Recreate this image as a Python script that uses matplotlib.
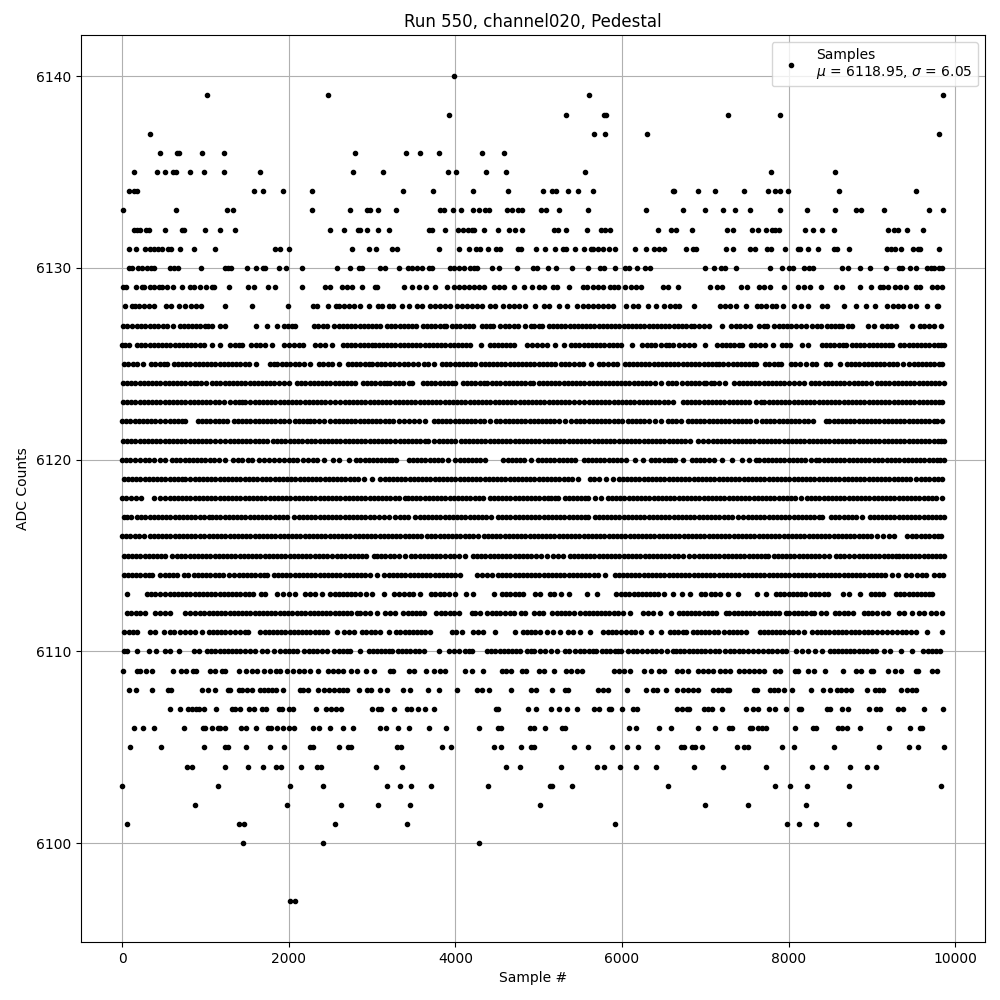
import matplotlib
matplotlib.use("Agg")
import matplotlib.pyplot as plt

s6140 = [3980]
s6139 = [1016, 2468, 5604, 9852]
s6138 = [3920, 5328, 5784, 5804, 7272, 7896]
s6137 = [332, 5664, 5796, 6300, 9804]
s6136 = [452, 656, 688, 956, 1220, 2792, 3404, 3572, 3800, 4316, 4580]
s6135 = [140, 416, 512, 608, 644, 812, 980, 1220, 1652, 2768, 3128, 3908, 4004, 4364, 4604, 5556, 7788, 8556]
s6134 = [88, 140, 180, 1580, 1688, 1928, 2276, 3368, 3728, 4208, 4628, 5052, 5160, 5208, 5352, 5472, 5652, 6608, 6620, 6912, 7116, 7464, 7752, 7836, 7896, 7992, 8604, 9528]
s6133 = [8, 644, 1256, 1328, 2276, 2732, 2936, 2972, 3068, 3284, 3812, 3860, 3968, 4064, 4208, 4280, 4352, 4400, 4616, 4676, 4748, 4800, 5024, 5088, 5244, 5592, 6288, 6732, 6996, 7212, 7356, 7536, 7896, 8220, 8556, 8808, 8868, 9144, 9684, 9852]
s6132 = [148, 180, 220, 292, 328, 512, 716, 740, 992, 1172, 1352, 2492, 2660, 2828, 2852, 2936, 3068, 3200, 3680, 3716, 3872, 4028, 4088, 4148, 4196, 4220, 4340, 4508, 4640, 4712, 4796, 5180, 5228, 5328, 5580, 5748, 5796, 5856, 6432, 6588, 6644, 6840, 7260, 7332, 7560, 7632, 7728, 7800, 7836, 7884, 8196, 8292, 8396, 8544, 9192, 9264, 9312, 9416, 9612]
s6131 = [88, 164, 280, 332, 380, 428, 484, 548, 584, 700, 860, 1112, 1832, 1892, 2000, 2756, 2960, 3044, 3236, 3296, 3800, 4040, 4160, 4244, 4292, 4388, 4484, 4532, 4748, 4788, 4968, 5076, 5196, 5292, 5328, 5436, 5544, 5628, 5652, 5712, 5772, 5844, 5916, 6156, 6288, 6384, 6444, 6504, 6768, 6852, 6888, 7248, 7332, 7536, 7596, 7740, 7788, 7956, 8112, 8136, 8232, 8352, 8544, 8580, 8724, 9180, 9228, 9276, 9348, 9492, 9552, 9576, 9804]
s6130 = [80, 116, 188, 236, 300, 348, 380, 580, 620, 668, 944, 1232, 1268, 1304, 1496, 1604, 1688, 1712, 1880, 1964, 2156, 2576, 2732, 2840, 2876, 3092, 3152, 3320, 3428, 3476, 3536, 3596, 3680, 3716, 3932, 3980, 4040, 4100, 4172, 4220, 4260, 4436, 4520, 4736, 4932, 4980, 5112, 5208, 5400, 5592, 5732, 5784, 5916, 6036, 6084, 6180, 6276, 6336, 6996, 7104, 7188, 7236, 7368, 7776, 7920, 8004, 8052, 8184, 8244, 8292, 8640, 8712, 8856, 8976, 9168, 9324, 9360, 9456, 9528, 9660, 9708, 9744, 9804, 9840]
s6129 = [8, 44, 164, 236, 260, 332, 380, 440, 476, 536, 608, 716, 812, 860, 932, 1004, 1076, 1100, 1288, 1508, 1580, 1748, 1832, 2156, 2432, 2492, 2636, 2696, 2756, 2876, 3032, 3056, 3380, 3476, 3560, 3644, 3752, 3896, 3980, 4040, 4100, 4160, 4220, 4280, 4340, 4460, 4520, 4580, 4700, 4820, 4916, 5004, 5064, 5172, 5220, 5364, 5532, 5580, 5652, 5712, 5772, 5856, 5904, 5952, 6036, 6108, 6168, 6228, 6492, 6552, 6672, 7056, 7140, 7200, 7428, 7500, 7644, 7704, 7776, 7944, 8112, 8184, 8256, 8388, 8568, 8640, 8856, 8988, 9096, 9132, 9192, 9276, 9336, 9408, 9528, 9576, 9720, 9780, 9840]
s6128 = [32, 116, 160, 200, 260, 320, 380, 524, 584, 680, 752, 824, 884, 944, 1240, 1556, 1988, 2288, 2336, 2468, 2564, 2600, 2660, 2720, 2780, 2852, 2960, 3068, 3120, 3200, 3252, 3356, 3440, 3536, 3596, 3692, 3760, 3820, 3880, 3940, 4020, 4080, 4140, 4200, 4260, 4320, 4420, 4480, 4572, 4640, 4700, 4760, 4840, 4952, 5068, 5124, 5244, 5340, 5460, 5532, 5592, 5652, 5712, 5772, 5832, 5892, 6044, 6132, 6192, 6312, 6412, 6504, 6572, 6632, 6684, 6864, 7180, 7232, 7292, 7368, 7488, 7620, 7672, 7732, 7800, 7852, 7932, 8064, 8152, 8232, 8404, 8464, 8664, 8812, 8932, 9036, 9180, 9252, 9312, 9372, 9452, 9532, 9660, 9780, 9796]
s6127 = [8, 60, 120, 180, 230, 280, 330, 380, 430, 490, 540, 608, 692, 740, 790, 840, 890, 940, 990, 1030, 1080, 1180, 1240, 1612, 1736, 1856, 1940, 1990, 2040, 2080, 2300, 2350, 2410, 2460, 2548, 2600, 2650, 2700, 2750, 2800, 2850, 2900, 2950, 3000, 3050, 3092, 3180, 3230, 3280, 3330, 3380, 3430, 3480, 3532, 3612, 3660, 3710, 3760, 3810, 3860, 3892, 3960, 4010, 4060, 4110, 4160, 4212, 4320, 4370, 4420, 4452, 4536, 4592, 4640, 4700, 4752, 4840, 4904, 4950, 5000, 5040, 5120, 5170, 5220, 5270, 5312, 5372, 5420, 5470, 5520, 5570, 5620, 5670, 5720, 5770, 5820, 5870, 5920, 5970, 6020, 6070, 6120, 6170, 6220, 6270, 6320, 6370, 6420, 6470, 6520, 6570, 6620, 6670, 6720, 6770, 6824, 6864, 6920, 6980, 7044, 7196, 7312, 7370, 7420, 7480, 7532, 7644, 7700, 7744, 7824, 7880, 7930, 7980, 8030, 8090, 8150, 8204, 8284, 8340, 8384, 8464, 8510, 8560, 8610, 8644, 8716, 8764, 8956, 9024, 9124, 9180, 9230, 9284, 9484, 9572, 9630, 9690, 9744, 9824]
s6126 = [0, 40, 80, 180, 230, 280, 330, 380, 430, 480, 530, 580, 630, 680, 730, 780, 830, 880, 930, 980, 1080, 1172, 1292, 1350, 1400, 1440, 1552, 1610, 1660, 1720, 1804, 1948, 2000, 2060, 2120, 2172, 2320, 2380, 2440, 2520, 2648, 2700, 2750, 2800, 2850, 2900, 2950, 3000, 3040, 3080, 3132, 3180, 3230, 3280, 3330, 3380, 3430, 3480, 3530, 3580, 3630, 3680, 3730, 3780, 3830, 3880, 3930, 3980, 4030, 4080, 4130, 4172, 4304, 4412, 4460, 4510, 4560, 4610, 4660, 4704, 4860, 4920, 4980, 5040, 5104, 5192, 5304, 5384, 5440, 5490, 5540, 5590, 5640, 5690, 5740, 5790, 5840, 5890, 5940, 5992, 6120, 6240, 6300, 6350, 6392, 6472, 6530, 6570, 6612, 6684, 6740, 6800, 6864, 6996, 7144, 7200, 7250, 7300, 7350, 7400, 7436, 7544, 7600, 7660, 7716, 7816, 7924, 7970, 8012, 8164, 8236, 8396, 8450, 8500, 8550, 8600, 8650, 8684, 8756, 8810, 8860, 8910, 8960, 9010, 9060, 9110, 9160, 9200, 9236, 9332, 9390, 9440, 9490, 9540, 9590, 9640, 9690, 9740, 9790, 9830, 9864]
s6125 = [20, 70, 130, 180, 252, 348, 400, 450, 500, 540, 620, 670, 720, 770, 820, 870, 920, 970, 1020, 1070, 1120, 1170, 1220, 1270, 1320, 1370, 1420, 1470, 1520, 1612, 1780, 1820, 1860, 1920, 1970, 2020, 2070, 2120, 2180, 2252, 2360, 2410, 2470, 2520, 2600, 2708, 2760, 2810, 2860, 2910, 2960, 3000, 3060, 3110, 3160, 3210, 3260, 3320, 3380, 3432, 3492, 3550, 3624, 3672, 3744, 3840, 3890, 3940, 3990, 4040, 4090, 4140, 4190, 4240, 4304, 4352, 4400, 4450, 4500, 4550, 4600, 4650, 4700, 4750, 4800, 4850, 4900, 4950, 5000, 5050, 5100, 5150, 5192, 5264, 5320, 5370, 5420, 5480, 5532, 5632, 5720, 5770, 5830, 5890, 5944, 6032, 6080, 6130, 6180, 6230, 6280, 6330, 6380, 6430, 6480, 6530, 6580, 6630, 6672, 6732, 6780, 6830, 6880, 6930, 6980, 7030, 7080, 7130, 7170, 7212, 7276, 7330, 7380, 7430, 7480, 7530, 7572, 7612, 7716, 7770, 7820, 7870, 7904, 8024, 8080, 8132, 8212, 8276, 8332, 8444, 8492, 8612, 8704, 8750, 8800, 8850, 8900, 8950, 9000, 9050, 9100, 9150, 9200, 9250, 9300, 9372, 9444, 9500, 9550, 9600, 9650, 9700, 9750, 9800, 9836]
s6124 = [8, 60, 110, 160, 210, 260, 310, 360, 410, 460, 510, 560, 610, 660, 710, 760, 810, 860, 900, 948, 1012, 1080, 1130, 1180, 1230, 1280, 1330, 1380, 1430, 1480, 1530, 1580, 1630, 1680, 1730, 1780, 1820, 1880, 1940, 2008, 2100, 2150, 2200, 2250, 2300, 2350, 2400, 2450, 2500, 2550, 2600, 2650, 2700, 2750, 2800, 2888, 2940, 2990, 3040, 3090, 3140, 3180, 3220, 3272, 3320, 3370, 3440, 3484, 3612, 3660, 3710, 3760, 3810, 3860, 3910, 3960, 4000, 4092, 4140, 4190, 4240, 4290, 4340, 4384, 4440, 4490, 4540, 4590, 4640, 4690, 4740, 4790, 4840, 4892, 4932, 5000, 5050, 5100, 5150, 5200, 5250, 5300, 5350, 5400, 5450, 5500, 5550, 5600, 5650, 5700, 5744, 5792, 5840, 5890, 5940, 5990, 6040, 6090, 6140, 6190, 6240, 6290, 6340, 6400, 6464, 6552, 6600, 6652, 6724, 6780, 6830, 6880, 6930, 6980, 7012, 7064, 7110, 7164, 7236, 7344, 7400, 7450, 7500, 7550, 7600, 7650, 7700, 7750, 7800, 7850, 7900, 7950, 8000, 8064, 8124, 8184, 8264, 8320, 8370, 8420, 8470, 8520, 8570, 8620, 8664, 8724, 8780, 8830, 8880, 8930, 8984, 9064, 9110, 9160, 9210, 9260, 9310, 9360, 9410, 9460, 9510, 9560, 9610, 9660, 9710, 9760, 9810, 9864]
s6123 = [8, 60, 110, 160, 210, 260, 310, 360, 410, 460, 510, 560, 610, 660, 710, 760, 810, 860, 910, 960, 1010, 1060, 1110, 1160, 1220, 1292, 1350, 1400, 1440, 1480, 1540, 1590, 1640, 1690, 1740, 1790, 1840, 1890, 1940, 1990, 2040, 2090, 2140, 2190, 2240, 2290, 2340, 2390, 2440, 2490, 2560, 2620, 2670, 2720, 2770, 2820, 2870, 2920, 2970, 3020, 3070, 3120, 3170, 3220, 3270, 3320, 3370, 3420, 3470, 3520, 3570, 3620, 3670, 3720, 3770, 3820, 3870, 3920, 3970, 4020, 4072, 4120, 4170, 4220, 4270, 4320, 4370, 4420, 4470, 4520, 4570, 4620, 4670, 4720, 4770, 4820, 4870, 4920, 4970, 5020, 5070, 5120, 5170, 5220, 5270, 5320, 5370, 5420, 5480, 5544, 5600, 5650, 5700, 5750, 5800, 5850, 5900, 5950, 6000, 6050, 6100, 6150, 6200, 6250, 6300, 6350, 6400, 6450, 6500, 6550, 6612, 6732, 6780, 6830, 6880, 6930, 6980, 7030, 7080, 7130, 7180, 7230, 7280, 7330, 7380, 7430, 7480, 7530, 7612, 7664, 7710, 7760, 7810, 7860, 7910, 7960, 8010, 8060, 8110, 8160, 8210, 8260, 8310, 8360, 8410, 8460, 8510, 8560, 8610, 8660, 8710, 8760, 8810, 8860, 8910, 8960, 9010, 9060, 9110, 9160, 9210, 9260, 9310, 9360, 9410, 9460, 9510, 9560, 9610, 9660, 9710, 9760, 9810, 9844]
s6122 = [0, 50, 100, 150, 200, 250, 300, 350, 400, 450, 520, 572, 620, 670, 720, 760, 908, 960, 1010, 1060, 1110, 1160, 1210, 1260, 1340, 1390, 1440, 1490, 1540, 1590, 1640, 1690, 1740, 1790, 1840, 1890, 1940, 2000, 2072, 2120, 2170, 2220, 2260, 2308, 2360, 2420, 2500, 2550, 2600, 2650, 2700, 2750, 2800, 2850, 2900, 2950, 3000, 3050, 3100, 3150, 3200, 3250, 3320, 3380, 3440, 3500, 3560, 3632, 3744, 3790, 3840, 3890, 3940, 3990, 4040, 4090, 4140, 4190, 4240, 4290, 4340, 4412, 4492, 4540, 4590, 4640, 4690, 4740, 4790, 4840, 4890, 4940, 4990, 5040, 5090, 5140, 5190, 5240, 5312, 5384, 5452, 5500, 5550, 5600, 5650, 5700, 5750, 5800, 5850, 5900, 5950, 6000, 6072, 6120, 6170, 6220, 6270, 6320, 6392, 6472, 6552, 6600, 6650, 6712, 6792, 6840, 6890, 6940, 6990, 7040, 7090, 7140, 7190, 7240, 7290, 7340, 7390, 7440, 7490, 7540, 7604, 7684, 7730, 7780, 7830, 7880, 7930, 7980, 8030, 8080, 8130, 8180, 8230, 8292, 8444, 8490, 8540, 8590, 8640, 8690, 8740, 8790, 8840, 8890, 8940, 8990, 9040, 9090, 9140, 9190, 9240, 9290, 9340, 9390, 9440, 9490, 9540, 9590, 9640, 9690, 9740, 9784, 9836]
s6121 = [8, 60, 110, 160, 210, 260, 310, 360, 410, 460, 510, 560, 610, 660, 710, 760, 810, 860, 910, 960, 1010, 1060, 1110, 1180, 1240, 1290, 1340, 1390, 1440, 1490, 1540, 1590, 1640, 1690, 1740, 1808, 1860, 1910, 1960, 2010, 2060, 2110, 2160, 2220, 2270, 2320, 2370, 2420, 2470, 2520, 2570, 2620, 2670, 2720, 2770, 2820, 2870, 2920, 2970, 3020, 3070, 3120, 3170, 3220, 3280, 3330, 3380, 3430, 3480, 3530, 3580, 3630, 3672, 3744, 3800, 3850, 3900, 3950, 4000, 4064, 4110, 4160, 4210, 4260, 4310, 4360, 4410, 4460, 4510, 4560, 4610, 4660, 4710, 4760, 4810, 4860, 4910, 4960, 5010, 5060, 5110, 5160, 5210, 5260, 5310, 5360, 5410, 5460, 5510, 5560, 5610, 5660, 5710, 5760, 5810, 5860, 5910, 5960, 6010, 6060, 6110, 6160, 6210, 6260, 6310, 6360, 6410, 6460, 6510, 6560, 6610, 6660, 6710, 6760, 6812, 6916, 6972, 7036, 7090, 7140, 7190, 7240, 7290, 7340, 7390, 7440, 7490, 7540, 7590, 7640, 7690, 7740, 7790, 7840, 7890, 7940, 7990, 8040, 8090, 8140, 8190, 8240, 8290, 8340, 8390, 8440, 8490, 8540, 8590, 8640, 8690, 8740, 8790, 8840, 8890, 8940, 8990, 9040, 9090, 9140, 9190, 9240, 9290, 9340, 9390, 9440, 9490, 9540, 9590, 9640, 9690, 9740, 9790, 9830, 9864]
s6120 = [0, 50, 100, 160, 220, 270, 320, 380, 450, 520, 600, 650, 700, 750, 800, 850, 900, 950, 1000, 1050, 1100, 1160, 1236, 1332, 1390, 1440, 1508, 1560, 1640, 1700, 1760, 1820, 1880, 1940, 2000, 2050, 2100, 2172, 2230, 2290, 2340, 2420, 2528, 2600, 2720, 2812, 2860, 2910, 2960, 3010, 3060, 3110, 3160, 3200, 3240, 3292, 3440, 3490, 3540, 3590, 3640, 3690, 3740, 3790, 3840, 3912, 4000, 4050, 4100, 4150, 4200, 4250, 4300, 4360, 4572, 4630, 4680, 4730, 4780, 4824, 4912, 4992, 5040, 5090, 5140, 5190, 5240, 5290, 5340, 5390, 5432, 5544, 5590, 5640, 5690, 5740, 5790, 5840, 5890, 5940, 5990, 6052, 6160, 6252, 6352, 6400, 6450, 6500, 6550, 6590, 6632, 6732, 6836, 6890, 6940, 6990, 7044, 7104, 7204, 7324, 7436, 7524, 7604, 7650, 7700, 7750, 7800, 7850, 7900, 7950, 8000, 8050, 8100, 8150, 8200, 8264, 8324, 8370, 8420, 8470, 8520, 8570, 8620, 8670, 8720, 8770, 8820, 8870, 8920, 8970, 9020, 9070, 9124, 9184, 9230, 9280, 9330, 9380, 9430, 9480, 9530, 9580, 9630, 9680, 9730, 9780, 9820, 9864]
s6119 = [20, 70, 120, 170, 220, 270, 320, 370, 420, 470, 520, 570, 620, 670, 720, 760, 820, 870, 920, 970, 1020, 1070, 1120, 1170, 1220, 1270, 1320, 1370, 1420, 1470, 1520, 1570, 1620, 1680, 1730, 1780, 1830, 1880, 1930, 1980, 2030, 2080, 2130, 2180, 2230, 2280, 2330, 2380, 2430, 2480, 2530, 2580, 2630, 2680, 2730, 2780, 2830, 2900, 3000, 3100, 3150, 3200, 3250, 3300, 3350, 3400, 3450, 3500, 3550, 3600, 3650, 3700, 3750, 3800, 3850, 3900, 3950, 4000, 4050, 4100, 4150, 4200, 4250, 4300, 4350, 4400, 4450, 4500, 4550, 4600, 4650, 4700, 4750, 4800, 4850, 4900, 4950, 5000, 5050, 5100, 5150, 5200, 5250, 5300, 5350, 5400, 5472, 5612, 5670, 5720, 5812, 5892, 5960, 6010, 6060, 6110, 6160, 6210, 6260, 6310, 6360, 6410, 6460, 6510, 6560, 6610, 6660, 6710, 6760, 6810, 6860, 6910, 6960, 7010, 7060, 7110, 7160, 7210, 7260, 7310, 7360, 7410, 7460, 7510, 7560, 7610, 7660, 7710, 7760, 7810, 7860, 7910, 7960, 8010, 8060, 8110, 8160, 8210, 8260, 8310, 8360, 8410, 8460, 8510, 8560, 8610, 8660, 8710, 8760, 8810, 8860, 8910, 8960, 9010, 9060, 9110, 9160, 9210, 9260, 9310, 9360, 9410, 9460, 9524, 9584, 9640, 9690, 9740, 9790, 9844]
s6118 = [0, 50, 110, 170, 228, 380, 452, 520, 570, 620, 670, 720, 770, 820, 870, 920, 970, 1020, 1070, 1120, 1170, 1220, 1270, 1320, 1370, 1420, 1470, 1520, 1570, 1620, 1670, 1720, 1770, 1820, 1870, 1920, 1970, 2020, 2070, 2120, 2170, 2220, 2270, 2320, 2370, 2420, 2470, 2520, 2570, 2620, 2670, 2720, 2770, 2820, 2870, 2920, 2970, 3020, 3070, 3120, 3170, 3220, 3270, 3320, 3392, 3432, 3480, 3530, 3580, 3630, 3680, 3730, 3780, 3830, 3880, 3930, 3980, 4030, 4080, 4130, 4180, 4230, 4280, 4332, 4412, 4460, 4510, 4560, 4610, 4660, 4710, 4760, 4810, 4860, 4910, 4960, 5010, 5060, 5110, 5150, 5192, 5232, 5312, 5360, 5410, 5460, 5510, 5560, 5592, 5672, 5752, 5832, 5880, 5930, 5980, 6030, 6080, 6130, 6180, 6230, 6280, 6330, 6380, 6430, 6480, 6530, 6580, 6630, 6680, 6730, 6780, 6830, 6880, 6930, 6980, 7030, 7080, 7130, 7180, 7230, 7280, 7330, 7380, 7430, 7480, 7530, 7580, 7630, 7680, 7730, 7780, 7830, 7880, 7930, 7980, 8030, 8080, 8144, 8224, 8270, 8320, 8370, 8420, 8470, 8520, 8570, 8620, 8670, 8720, 8770, 8820, 8870, 8920, 8970, 9020, 9070, 9120, 9170, 9220, 9270, 9320, 9370, 9420, 9470, 9520, 9570, 9620, 9670, 9720, 9770, 9844]
s6117 = [20, 60, 108, 180, 230, 280, 330, 380, 430, 480, 530, 580, 630, 680, 730, 780, 830, 880, 930, 980, 1040, 1080, 1130, 1180, 1230, 1280, 1330, 1380, 1430, 1480, 1530, 1580, 1630, 1680, 1730, 1780, 1830, 1880, 1930, 1980, 2060, 2120, 2170, 2220, 2270, 2320, 2370, 2420, 2470, 2520, 2570, 2620, 2670, 2720, 2770, 2820, 2870, 2920, 2980, 3020, 3080, 3140, 3200, 3272, 3332, 3380, 3432, 3520, 3570, 3620, 3670, 3720, 3770, 3820, 3870, 3920, 3970, 4020, 4070, 4120, 4170, 4220, 4270, 4320, 4370, 4432, 4512, 4560, 4610, 4660, 4710, 4760, 4810, 4860, 4910, 4960, 5010, 5060, 5110, 5160, 5210, 5260, 5310, 5360, 5410, 5460, 5510, 5560, 5592, 5672, 5720, 5770, 5820, 5870, 5920, 5970, 6020, 6070, 6120, 6170, 6220, 6270, 6320, 6370, 6420, 6470, 6520, 6570, 6620, 6670, 6720, 6770, 6820, 6870, 6920, 6970, 7020, 7070, 7120, 7170, 7220, 7270, 7320, 7396, 7456, 7510, 7560, 7610, 7660, 7710, 7760, 7810, 7860, 7910, 7960, 8010, 8060, 8110, 8160, 8210, 8260, 8310, 8360, 8404, 8504, 8560, 8610, 8660, 8710, 8760, 8810, 8884, 8972, 9020, 9070, 9120, 9170, 9220, 9270, 9320, 9370, 9420, 9470, 9520, 9570, 9620, 9670, 9720, 9770, 9820, 9864]
s6116 = [0, 50, 100, 150, 200, 260, 332, 380, 430, 480, 530, 580, 630, 680, 730, 780, 830, 880, 930, 980, 1040, 1090, 1140, 1190, 1240, 1290, 1340, 1390, 1440, 1490, 1540, 1590, 1640, 1690, 1740, 1790, 1840, 1890, 1940, 1990, 2040, 2090, 2140, 2190, 2240, 2290, 2340, 2390, 2440, 2490, 2540, 2590, 2640, 2690, 2740, 2790, 2840, 2890, 2940, 2990, 3040, 3090, 3140, 3190, 3240, 3290, 3340, 3390, 3440, 3490, 3540, 3592, 3664, 3710, 3760, 3810, 3860, 3910, 3960, 4010, 4060, 4110, 4160, 4210, 4272, 4344, 4390, 4440, 4490, 4540, 4590, 4640, 4690, 4740, 4790, 4840, 4890, 4940, 4990, 5040, 5090, 5140, 5190, 5240, 5290, 5340, 5390, 5440, 5490, 5540, 5590, 5640, 5690, 5740, 5790, 5840, 5890, 5940, 5990, 6032, 6092, 6140, 6190, 6240, 6290, 6340, 6390, 6440, 6490, 6540, 6590, 6640, 6690, 6740, 6790, 6840, 6890, 6940, 6990, 7040, 7090, 7140, 7190, 7240, 7290, 7340, 7390, 7440, 7490, 7540, 7590, 7640, 7690, 7740, 7790, 7840, 7890, 7940, 7990, 8040, 8090, 8140, 8190, 8240, 8290, 8340, 8390, 8440, 8490, 8540, 8590, 8640, 8690, 8740, 8790, 8840, 8890, 8940, 8990, 9064, 9132, 9200, 9264, 9424, 9480, 9530, 9584, 9636, 9690, 9740, 9790, 9824]
s6115 = [20, 70, 120, 170, 220, 270, 320, 370, 420, 470, 520, 600, 660, 710, 760, 810, 860, 910, 960, 1010, 1060, 1110, 1160, 1210, 1260, 1310, 1360, 1410, 1460, 1510, 1560, 1610, 1660, 1710, 1760, 1810, 1860, 1908, 1960, 2010, 2060, 2110, 2160, 2210, 2260, 2310, 2360, 2410, 2460, 2520, 2580, 2630, 2680, 2730, 2780, 2830, 2880, 2930, 3020, 3060, 3110, 3160, 3210, 3260, 3320, 3392, 3472, 3520, 3570, 3620, 3670, 3720, 3770, 3820, 3870, 3932, 3984, 4040, 4120, 4212, 4260, 4310, 4360, 4410, 4460, 4510, 4560, 4610, 4660, 4710, 4760, 4810, 4860, 4910, 4972, 5032, 5104, 5172, 5230, 5292, 5372, 5420, 5470, 5520, 5570, 5620, 5670, 5720, 5770, 5820, 5870, 5920, 5970, 6020, 6070, 6120, 6170, 6212, 6272, 6320, 6370, 6420, 6470, 6520, 6570, 6620, 6670, 6732, 6804, 6864, 6920, 6970, 7020, 7070, 7120, 7164, 7224, 7270, 7320, 7370, 7420, 7470, 7520, 7570, 7620, 7670, 7720, 7756, 7824, 7870, 7920, 7970, 8020, 8070, 8120, 8170, 8220, 8270, 8320, 8370, 8420, 8484, 8564, 8620, 8670, 8720, 8784, 8844, 8890, 8940, 8990, 9040, 9090, 9140, 9190, 9240, 9290, 9324, 9372, 9420, 9470, 9520, 9570, 9620, 9670, 9720, 9770, 9820, 9864]
s6114 = [20, 70, 120, 170, 220, 270, 320, 360, 452, 510, 560, 610, 660, 740, 792, 860, 910, 960, 1010, 1060, 1110, 1160, 1210, 1280, 1348, 1400, 1450, 1500, 1550, 1600, 1650, 1700, 1740, 1820, 1870, 1920, 1970, 2020, 2070, 2120, 2170, 2220, 2270, 2320, 2370, 2420, 2470, 2520, 2570, 2620, 2670, 2720, 2770, 2820, 2870, 2920, 2980, 3060, 3148, 3200, 3250, 3300, 3350, 3400, 3450, 3500, 3550, 3600, 3650, 3700, 3750, 3800, 3850, 3900, 3950, 4000, 4052, 4264, 4320, 4380, 4440, 4512, 4560, 4610, 4660, 4710, 4760, 4810, 4860, 4910, 4960, 5010, 5060, 5110, 5160, 5210, 5260, 5310, 5360, 5410, 5460, 5510, 5560, 5610, 5660, 5710, 5792, 5912, 5960, 6010, 6060, 6110, 6160, 6210, 6260, 6310, 6360, 6410, 6460, 6510, 6560, 6610, 6660, 6710, 6760, 6810, 6860, 6910, 6960, 7010, 7060, 7110, 7160, 7210, 7260, 7310, 7360, 7410, 7460, 7510, 7560, 7610, 7660, 7710, 7760, 7810, 7860, 7910, 7960, 8010, 8060, 8110, 8160, 8210, 8260, 8310, 8360, 8410, 8460, 8510, 8560, 8610, 8660, 8710, 8760, 8810, 8860, 8910, 8960, 9010, 9060, 9110, 9160, 9244, 9316, 9404, 9464, 9544, 9600, 9650, 9744, 9804, 9852]
s6113 = [60, 300, 350, 400, 460, 520, 570, 620, 670, 720, 770, 820, 870, 920, 970, 1020, 1070, 1120, 1170, 1220, 1270, 1320, 1370, 1420, 1470, 1520, 1570, 1668, 1716, 1860, 1930, 2000, 2080, 2200, 2260, 2320, 2400, 2500, 2550, 2600, 2650, 2700, 2750, 2800, 2860, 2928, 3000, 3140, 3260, 3320, 3380, 3440, 3492, 3576, 3712, 3760, 3810, 3860, 3920, 3992, 4132, 4212, 4464, 4560, 4610, 4660, 4710, 4760, 4812, 4960, 5012, 5132, 5190, 5272, 5364, 5580, 5704, 5932, 5990, 6040, 6090, 6140, 6190, 6240, 6290, 6340, 6390, 6432, 6504, 6612, 6720, 6812, 6944, 6996, 7064, 7116, 7180, 7268, 7396, 7624, 7724, 7844, 7900, 7950, 8000, 8050, 8100, 8150, 8196, 8264, 8320, 8370, 8420, 8476, 8652, 8724, 8860, 8984, 9040, 9090, 9132, 9292, 9340, 9390, 9440, 9490, 9540, 9590, 9640, 9690, 9724]
s6112 = [60, 110, 170, 220, 276, 400, 460, 520, 580, 760, 820, 870, 930, 980, 1040, 1090, 1140, 1190, 1240, 1290, 1340, 1390, 1440, 1490, 1540, 1590, 1640, 1690, 1740, 1790, 1840, 1890, 1940, 1990, 2040, 2100, 2150, 2200, 2250, 2300, 2350, 2400, 2450, 2500, 2550, 2600, 2650, 2700, 2750, 2820, 2860, 2920, 2980, 3060, 3160, 3220, 3272, 3372, 3430, 3480, 3530, 3580, 3624, 3772, 3830, 3880, 3930, 3980, 4040, 4200, 4232, 4296, 4384, 4440, 4490, 4540, 4592, 4652, 4704, 4792, 4840, 4944, 5000, 5052, 5160, 5220, 5270, 5320, 5370, 5430, 5492, 5552, 5600, 5650, 5700, 5750, 5800, 5850, 5900, 5950, 6012, 6096, 6252, 6310, 6372, 6456, 6588, 6680, 6730, 6780, 6830, 6880, 6930, 6980, 7030, 7080, 7132, 7244, 7290, 7340, 7390, 7440, 7490, 7540, 7590, 7640, 7690, 7740, 7790, 7840, 7890, 7964, 8004, 8060, 8110, 8160, 8210, 8264, 8304, 8384, 8452, 8556, 8610, 8660, 8710, 8772, 8904, 8950, 9004, 9064, 9130, 9196, 9324, 9384, 9476, 9564, 9630, 9704, 9772, 9844]
s6111 = [28, 80, 130, 180, 332, 400, 500, 572, 620, 700, 760, 820, 880, 956, 1040, 1090, 1140, 1190, 1240, 1290, 1360, 1420, 1470, 1508, 1660, 1710, 1760, 1810, 1860, 1910, 1960, 2010, 2060, 2110, 2160, 2210, 2260, 2310, 2360, 2410, 2460, 2580, 2660, 2720, 2780, 2880, 2930, 2990, 3040, 3092, 3200, 3292, 3340, 3390, 3440, 3490, 3540, 3590, 3640, 3692, 3960, 4012, 4080, 4212, 4270, 4332, 4472, 4712, 4812, 4860, 4910, 4960, 5012, 5104, 5172, 5252, 5352, 5412, 5496, 5616, 5772, 5830, 5880, 5930, 5990, 6052, 6112, 6152, 6232, 6344, 6472, 6572, 6620, 6670, 6732, 6764, 6852, 6900, 6950, 7000, 7050, 7100, 7156, 7224, 7280, 7330, 7380, 7430, 7484, 7652, 7700, 7750, 7800, 7850, 7900, 7950, 8000, 8050, 8116, 8188, 8284, 8340, 8390, 8440, 8490, 8540, 8590, 8640, 8684, 8744, 8800, 8850, 8900, 8950, 9000, 9064, 9124, 9180, 9240, 9304, 9356, 9410, 9470, 9532, 9664, 9840]
s6110 = [20, 60, 180, 320, 404, 512, 572, 688, 860, 920, 1020, 1070, 1120, 1170, 1220, 1270, 1320, 1370, 1420, 1470, 1540, 1600, 1680, 1740, 1820, 1900, 1950, 2000, 2050, 2100, 2180, 2240, 2290, 2340, 2400, 2460, 2548, 2600, 2650, 2700, 2740, 2860, 2960, 3010, 3060, 3110, 3160, 3200, 3240, 3308, 3360, 3410, 3460, 3510, 3560, 3620, 3800, 3920, 3980, 4040, 4120, 4160, 4200, 4380, 4430, 4480, 4530, 4580, 4630, 4680, 4730, 4780, 4860, 4912, 4940, 5012, 5080, 5152, 5220, 5312, 5370, 5432, 5492, 5550, 5600, 5652, 5692, 5764, 5810, 5852, 5912, 5950, 5992, 6072, 6130, 6180, 6240, 6300, 6360, 6412, 6472, 6540, 6612, 6652, 6700, 6750, 6800, 6850, 6900, 6950, 7000, 7052, 7112, 7170, 7232, 7292, 7350, 7400, 7452, 7512, 7570, 7630, 7692, 7752, 7800, 7860, 7920, 7972, 8092, 8160, 8232, 8312, 8404, 8492, 8540, 8590, 8640, 8690, 8740, 8790, 8840, 8890, 8940, 9000, 9052, 9140, 9212, 9352, 9484, 9612, 9670, 9720, 9770, 9812]
s6109 = [8, 180, 220, 284, 356, 608, 704, 764, 848, 884, 1052, 1112, 1196, 1232, 1400, 1484, 1556, 1620, 1700, 1780, 1844, 1900, 1980, 2048, 2120, 2180, 2252, 2348, 2468, 2530, 2590, 2648, 2744, 2816, 2924, 3020, 3212, 3248, 3448, 3500, 3644, 3740, 3812, 3872, 4112, 4196, 4328, 4556, 4604, 4664, 4796, 4844, 5004, 5064, 5184, 5328, 5388, 5460, 5520, 5904, 5964, 6024, 6096, 6264, 6348, 6444, 6504, 6660, 6720, 6792, 6912, 6972, 7032, 7092, 7176, 7236, 7296, 7404, 7464, 7524, 7584, 7644, 7704, 7836, 7896, 8076, 8112, 8232, 8300, 8436, 8652, 8808, 8868, 8988, 9012, 9192, 9276, 9348, 9528, 9552, 9720, 9780]
s6108 = [80, 164, 356, 548, 584, 956, 1028, 1112, 1268, 1292, 1400, 1436, 1496, 1556, 1652, 1700, 1748, 1796, 1844, 1928, 2132, 2168, 2228, 2348, 2420, 2480, 2540, 2600, 2648, 2696, 2840, 2936, 2984, 3092, 3176, 3368, 3452, 3668, 3800, 4016, 4256, 4316, 4400, 4664, 4904, 4964, 5160, 5316, 5352, 5712, 5772, 5832, 6060, 6288, 6372, 6420, 6528, 6660, 6732, 6792, 6852, 6912, 7092, 7152, 7200, 7260, 7284, 7584, 7620, 7776, 7824, 7872, 7944, 8040, 8268, 8412, 8496, 8580, 8628, 8688, 8748, 8936, 9036, 9084, 9132, 9348, 9420, 9480, 9528]
s6107 = [572, 692, 788, 836, 884, 920, 980, 1124, 1316, 1352, 1412, 1520, 1580, 1676, 1724, 1880, 1916, 2000, 2048, 2324, 2444, 2504, 2564, 2624, 2996, 3068, 3104, 3260, 3420, 3464, 3548, 3632, 3740, 4484, 4508, 4868, 4964, 5148, 5244, 5340, 5460, 5664, 5724, 5844, 5868, 6000, 6132, 6180, 6660, 6720, 6780, 6804, 6984, 7032, 7080, 7200, 7488, 7572, 7632, 7764, 7836, 7968, 8124, 8148, 8460, 8496, 8640, 8712, 8964, 9048, 9096, 9312, 9372, 9624, 9852]
s6106 = [140, 248, 380, 740, 968, 992, 1076, 1148, 1172, 1232, 1424, 1484, 1604, 1748, 1784, 1856, 1928, 2000, 2060, 2288, 2360, 2492, 2648, 2768, 3092, 3164, 3308, 3440, 3680, 3884, 4280, 4508, 4544, 4892, 4940, 5076, 5280, 5316, 6084, 6168, 6444, 6588, 6912, 7116, 7284, 7320, 7536, 7560, 7632, 7680, 7728, 8076, 8292, 8328, 8592, 8640, 8700, 8856, 9204, 9456, 9576, 9600]
s6105 = [92, 464, 980, 1232, 1268, 1484, 1772, 1940, 2252, 2288, 2600, 2708, 2744, 3304, 3352, 3836, 3944, 4460, 4544, 4784, 4904, 4940, 5424, 5592, 5880, 6060, 6192, 6420, 6708, 6744, 6840, 6876, 6960, 7380, 7464, 7512, 7920, 8064, 8544, 9084, 9444, 9552, 9864]
s6104 = [776, 836, 1232, 1508, 1688, 1844, 1904, 2144, 2336, 2384, 3044, 3356, 4604, 4772, 5268, 5700, 5784, 5976, 6168, 6408, 6864, 7212, 7728, 8280, 8448, 8736, 8940, 9048]
s6103 = [0, 1148, 2012, 2408, 3176, 3332, 3464, 3704, 4388, 5132, 5160, 5400, 6552, 7836, 8016, 8220, 8724, 9828]
s6102 = [872, 1976, 2624, 3068, 3452, 5016, 6996, 7512, 8208]
s6101 = [56, 1400, 1460, 2552, 3416, 5916, 7980, 8124, 8328, 8724]
s6100 = [1448, 2408, 4280]
s6097 = [2012, 2072]

levels = [6140, 6139, 6138, 6137, 6136, 6135, 6134, 6133, 6132, 6131, 6130, 6129, 6128, 6127, 6126, 6125, 6124, 6123, 6122, 6121, 6120, 6119, 6118, 6117, 6116, 6115, 6114, 6113, 6112, 6111, 6110, 6109, 6108, 6107, 6106, 6105, 6104, 6103, 6102, 6101, 6100, 6097]
rows = [s6140, s6139, s6138, s6137, s6136, s6135, s6134, s6133, s6132, s6131, s6130, s6129, s6128, s6127, s6126, s6125, s6124, s6123, s6122, s6121, s6120, s6119, s6118, s6117, s6116, s6115, s6114, s6113, s6112, s6111, s6110, s6109, s6108, s6107, s6106, s6105, s6104, s6103, s6102, s6101, s6100, s6097]
mean_counts = 6118.95
sigma_counts = 6.05

xs, ys = [], []
for level, row in zip(levels, rows):
    xs.extend(row)
    ys.extend([level] * len(row))

fig, ax = plt.subplots(figsize=(10, 10), dpi=100)
ax.plot(xs, ys, "k.", label=f"Samples\n$\\mu$ = {mean_counts:.2f}, $\\sigma$ = {sigma_counts:.2f}")
ax.set_title("Run 550, channel020, Pedestal")
ax.set_xlabel("Sample #")
ax.set_ylabel("ADC Counts")
ax.grid(True)
ax.legend(loc="upper right")
fig.subplots_adjust(left=0.081, right=0.985, top=0.965, bottom=0.058)
fig.savefig("out.png", dpi=100)
